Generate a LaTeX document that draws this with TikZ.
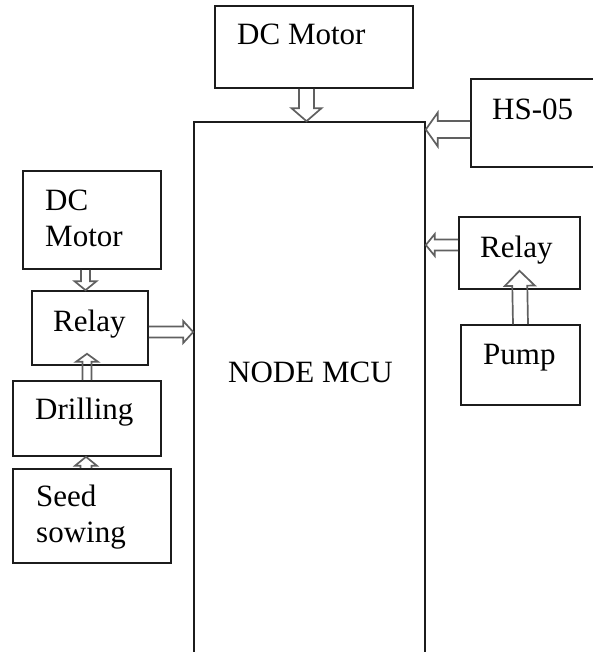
\documentclass[tikz,border=0pt]{standalone}
\usepackage{fontspec}
\setmainfont{Liberation Serif}
\usetikzlibrary{calc}
\definecolor{boxline}{HTML}{1C1C1C}
\definecolor{arrowline}{HTML}{606060}
\tikzset{
  unit/.style={draw=boxline,line width=1.6pt,inner sep=0pt},
  boxtext/.style={font=\fontsize{31}{36.5}\selectfont,anchor=base west,
    inner sep=0pt,align=left,text=black},
  blockshaft/.store in=\blockshaft,
  blockhead/.store in=\blockhead,
  blocklen/.store in=\blocklen,
  hollow/.style={draw=arrowline,line width=1.7pt,line join=miter,
    to path={
      ($(\tikztostart)!\blockshaft!90:(\tikztotarget)$)
      -- ($(\tikztotarget)!\blocklen!(\tikztostart)!\blockshaft!90:(\tikztotarget)$)
      -- ($(\tikztotarget)!\blocklen!(\tikztostart)!\blockhead!90:(\tikztotarget)$)
      -- (\tikztotarget)
      -- ($(\tikztotarget)!\blocklen!(\tikztostart)!\blockhead!-90:(\tikztotarget)$)
      -- ($(\tikztotarget)!\blocklen!(\tikztostart)!\blockshaft!-90:(\tikztotarget)$)
      -- ($(\tikztostart)!\blockshaft!-90:(\tikztotarget)$)
    }},
  widearrow/.style={hollow,blockshaft=7.5pt,blockhead=15pt,blocklen=13pt},
  slimarrow/.style={hollow,blockshaft=5.5pt,blockhead=11pt,blocklen=9pt}
}

\begin{document}
\begin{tikzpicture}[x=1pt,y=1pt]
\path[use as bounding box,clip] (0,0) rectangle (593,652);

% controller in the middle, runs past the lower edge
\node[unit,minimum width=231pt,minimum height=570pt] (mcu) at (309.5,245) {};
\node[boxtext] (mcutext) at (228,269) {NODE MCU};

% top and right blocks
\node[unit,minimum width=198pt,minimum height=82pt] (motortop) at (314,605) {};
\node[boxtext] (motortoptext) at (237,607) {DC Motor};
\node[unit,minimum width=169pt,minimum height=88pt] (hs05) at (555.5,529) {};
\node[boxtext] (hs05text) at (492,532) {HS-05};
\node[unit,minimum width=121pt,minimum height=72pt] (relayR) at (519.5,399) {};
\node[boxtext] (relayRtext) at (480,394) {Relay};
\node[unit,minimum width=119pt,minimum height=80pt] (pump) at (520.5,287) {};
\node[boxtext] (pumptext) at (483,287) {Pump};

% left column (multi-line text sits on its last baseline)
\node[unit,minimum width=138pt,minimum height=98pt] (motorL) at (92,432) {};
\node[boxtext] (motorLtext) at (45,405) {DC\\Motor};
\node[unit,minimum width=116pt,minimum height=74pt] (relayL) at (90,324) {};
\node[boxtext] (relayLtext) at (53,320) {Relay};
\node[unit,minimum width=148pt,minimum height=75pt] (drill) at (87,233.5) {};
\node[boxtext] (drilltext) at (35,232) {Drilling};
\node[unit,minimum width=158pt,minimum height=94pt] (seed) at (92,136) {};
\node[boxtext] (seedtext) at (36,109) {Seed\\sowing};

% hollow block arrows
\draw[widearrow] ([xshift=-7.5pt]motortop.south) to ([xshift=-3pt]mcu.north);
\draw[widearrow,blockshaft=8.5pt,blockhead=17pt,blocklen=12pt]
  ([yshift=-6.5pt]hs05.west) to ([yshift=-6.5pt]hs05.west -| mcu.east);
\draw[slimarrow] ([yshift=8pt]relayR.west) to ([yshift=8pt]relayR.west -| mcu.east);
\draw[widearrow,blocklen=15pt] (pump.north) to ([yshift=19pt]relayR.south);
\draw[slimarrow,blocklen=10pt] ([yshift=-4pt]relayL.east) to ([yshift=-4pt]relayL.east -| mcu.west);
\draw[slimarrow,blockshaft=4.5pt] ([xshift=-6.5pt]motorL.south) to ([xshift=-6.5pt]motorL.south |- relayL.north);
\draw[slimarrow,blockshaft=4.5pt,blocklen=8pt] (drill.north) to ([yshift=12pt]drill.north |- relayL.south);
\draw[slimarrow] ([xshift=-6pt]seed.north) to ([xshift=-6pt]seed.north |- drill.south);

\end{tikzpicture}
\end{document}
